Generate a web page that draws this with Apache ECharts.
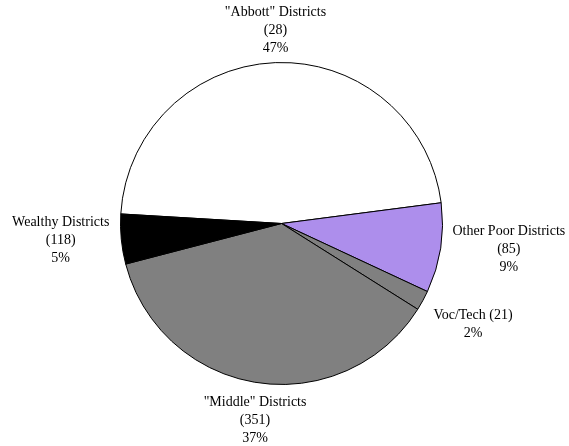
<!DOCTYPE html>
<html>
<head>
<meta charset="utf-8">
<style>
  html, body { margin: 0; padding: 0; background: #fff; }
  #chart { width: 569px; height: 446px; }
</style>
<script src="https://cdn.jsdelivr.net/npm/echarts@6/dist/echarts.min.js"></script>
</head>
<body>
<div id="chart"></div>
<script>
var categories = ['"Abbott" Districts', 'Other Poor Districts', 'Voc/Tech', '"Middle" Districts', 'Wealthy Districts'];
var districtCounts = [28, 85, 21, 351, 118];
var shares = [47, 9, 2, 37, 5];
var sliceColors = ['#ffffff', '#ad8eec', '#808080', '#808080', '#000000'];
var inlineCount = [false, false, true, false, false];

var CX = 281.5, CY = 223.5, R = 161, START = 176.6;
var GAP_X = 12, GAP_TOP = 5, GAP_BOTTOM = 11;

var total = shares.reduce(function (a, b) { return a + b; }, 0);
var midAngles = [];
(function () {
  var a = START;
  for (var i = 0; i < shares.length; i++) {
    var span = shares[i] / total * 360;
    midAngles.push(a - span / 2);
    a -= span;
  }
})();

var chart = echarts.init(document.getElementById('chart'), null, { renderer: 'canvas' });

var data = categories.map(function (name, i) {
  return {
    name: name,
    value: shares[i],
    itemStyle: { color: sliceColors[i] }
  };
});

chart.setOption({
  animation: false,
  backgroundColor: '#ffffff',
  series: [{
    type: 'pie',
    center: [CX, CY],
    radius: R,
    startAngle: START,
    clockwise: true,
    avoidLabelOverlap: false,
    data: data,
    itemStyle: { borderColor: '#000000', borderWidth: 1 },
    emphasis: { disabled: true },
    labelLine: { show: false },
    label: {
      show: true,
      position: 'outside',
      fontFamily: 'Liberation Serif',
      fontSize: 14,
      lineHeight: 18,
      color: '#000000',
      align: 'center',
      formatter: function (p) {
        var i = p.dataIndex;
        var c = '(' + districtCounts[i] + ')';
        var head = inlineCount[i] ? p.name + ' ' + c : p.name + '\n' + c;
        return head + '\n' + p.value + '%';
      }
    },
    labelLayout: function (p) {
      var i = p.dataIndex;
      var t = midAngles[i] * Math.PI / 180;
      var c = Math.cos(t), s = Math.sin(t);
      var ax = CX + (R + GAP_X) * c;
      var ay = CY - (R + (s > 0 ? GAP_TOP : GAP_BOTTOM)) * s;
      var w = p.labelRect.width;
      var x = ax;
      if (Math.abs(c) >= 0.3) {
        x = c > 0 ? ax + w / 2 : ax - w / 2;
      }
      var va = Math.abs(s) < 0.3 ? 'middle' : (s > 0 ? 'bottom' : 'top');
      return { x: x, y: ay, align: 'center', verticalAlign: va };
    }
  }]
});
</script>
</body>
</html>
